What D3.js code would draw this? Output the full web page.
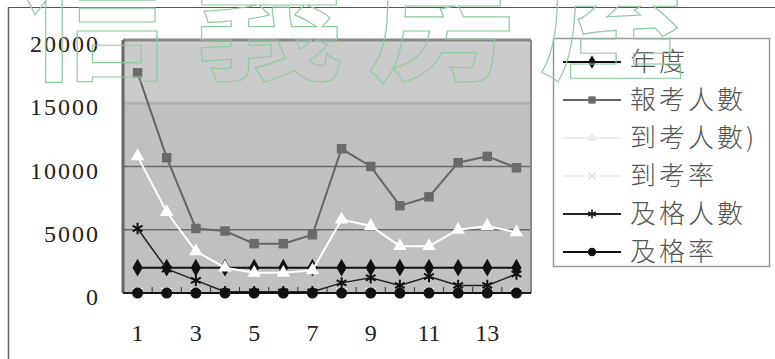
<!DOCTYPE html>
<html>
<head>
<meta charset="utf-8">
<script src="https://cdn.jsdelivr.net/npm/d3@7"></script>
<style>
  body { margin: 0; background: #fff; }
  svg { display: block; }
</style>
</head>
<body>
<svg id="chart" width="775" height="359"></svg>
<script>
// categories and series values
const categories = [1, 2, 3, 4, 5, 6, 7, 8, 9, 10, 11, 12, 13, 14]
const xLabels = [1, 3, 5, 7, 9, 11, 13]
const yTicks = [0, 5000, 10000, 15000, 20000]

const niandu = [2000, 2000, 2000, 2000, 2000, 2000, 2000, 2000, 2000, 2000, 2000, 2000, 2000, 2000]
const baokao = [17400, 10700, 5100, 4900, 3900, 3900, 4600, 11400, 10000, 6900, 7600, 10300, 10800, 9900]
const daokao = [10800, 6400, 3300, 2000, 1600, 1600, 1800, 5800, 5300, 3700, 3700, 5000, 5300, 4800]
const daokaoRate = [0.62, 0.6, 0.65, 0.41, 0.41, 0.41, 0.39, 0.51, 0.53, 0.54, 0.49, 0.49, 0.49, 0.48]
const jige = [5100, 1900, 1000, 100, 100, 100, 100, 800, 1200, 600, 1300, 600, 600, 1500]
const jigeRate = [0.29, 0.3, 0.3, 0.05, 0.06, 0.06, 0.05, 0.14, 0.23, 0.16, 0.35, 0.12, 0.11, 0.31]

const seriesNames = ['年度', '報考人數', '到考人數)', '到考率', '及格人數', '及格率']

const svg = d3.select('#chart')

const plot = {left: 123, right: 531, top: 40, bottom: 293}

const xScale = d3.scaleBand()
            .domain(categories)
            .range([plot.left, plot.right])
const cx = d => xScale(d) + xScale.bandwidth() / 2

const yScale = d3.scaleLinear()
            .domain([0, 20000])
            .range([plot.bottom, plot.top])

// outer frame lines
svg.append('line').attr('x1', 8).attr('x2', 775).attr('y1', 7.5).attr('y2', 7.5)
    .attr('stroke', '#555').attr('stroke-width', 1)
svg.append('line').attr('x1', 8.5).attr('x2', 8.5).attr('y1', 7).attr('y2', 359)
    .attr('stroke', '#666').attr('stroke-width', 1.5)

// plot background, lighter band at the top
svg.append('rect')
    .attr('x', plot.left).attr('y', yScale(15000))
    .attr('width', plot.right - plot.left).attr('height', plot.bottom - yScale(15000))
    .attr('fill', '#c0c0c0')
svg.append('rect')
    .attr('x', plot.left).attr('y', plot.top)
    .attr('width', plot.right - plot.left).attr('height', yScale(15000) - plot.top)
    .attr('fill', '#cbcbcb')

// gridlines
svg.selectAll('.grid')
    .data([5000, 10000, 15000])
    .join('line')
        .attr('class', 'grid')
        .attr('x1', plot.left).attr('x2', plot.right)
        .attr('y1', d => yScale(d)).attr('y2', d => yScale(d))
        .attr('stroke', d => d === 15000 ? '#b0b0b0' : '#6a6a6a')
        .attr('stroke-width', d => d === 15000 ? 3 : 1.5)

// plot border
svg.append('line').attr('x1', plot.left).attr('x2', plot.right).attr('y1', plot.top).attr('y2', plot.top)
    .attr('stroke', '#888').attr('stroke-width', 3)
svg.append('line').attr('x1', plot.left).attr('x2', plot.left).attr('y1', plot.top).attr('y2', plot.bottom)
    .attr('stroke', '#666').attr('stroke-width', 3)
svg.append('line').attr('x1', plot.right).attr('x2', plot.right).attr('y1', plot.top).attr('y2', plot.bottom)
    .attr('stroke', '#888').attr('stroke-width', 2)

// small ticks between categories along the base
svg.selectAll('.minor')
    .data(categories.slice(1))
    .join('line')
        .attr('class', 'minor')
        .attr('x1', d => xScale(d)).attr('x2', d => xScale(d))
        .attr('y1', plot.bottom).attr('y2', plot.bottom - 6)
        .attr('stroke', '#333').attr('stroke-width', 1)

// axes
const yAxis = svg.append('g')
    .attr('transform', `translate(${plot.left},0)`)
    .call(d3.axisLeft(yScale).tickValues(yTicks).tickSize(0).tickPadding(23).tickFormat(d3.format('d')))
yAxis.select('.domain').remove()
yAxis.selectAll('text')
    .attr('dy', '0.48em')
    .attr('font-family', 'Liberation Serif, serif')
    .attr('font-size', 24)
    .attr('letter-spacing', 2)
    .attr('fill', '#222')

const xAxis = svg.append('g')
    .attr('transform', `translate(0,${plot.bottom})`)
    .call(d3.axisBottom(xScale).tickValues(xLabels).tickSize(0).tickPadding(31))
xAxis.select('.domain').attr('stroke', '#222').attr('stroke-width', 2)
    .attr('d', `M${plot.left},0H${plot.right}`)
xAxis.selectAll('text')
    .attr('font-family', 'Liberation Serif, serif')
    .attr('font-size', 24)
    .attr('fill', '#222')

// series
const series = [
    {name: seriesNames[0], values: niandu, line: '#111', width: 2, sym: d3.symbolDiamond, size: 90, fill: '#111', stroke: 'none'},
    {name: seriesNames[1], values: baokao, line: '#666', width: 2, sym: d3.symbolSquare, size: 90, fill: '#6a6a6a', stroke: 'none'},
    {name: seriesNames[2], values: daokao, line: '#fff', width: 2, sym: d3.symbolTriangle, size: 80, fill: '#fff', stroke: 'none'},
    {name: seriesNames[3], values: daokaoRate, line: '#fff', width: 1.5, sym: d3.symbolTimes, size: 60, fill: 'none', stroke: '#fff'},
    {name: seriesNames[4], values: jige, line: '#222', width: 1.5, sym: d3.symbolAsterisk, size: 90, fill: 'none', stroke: '#111'},
    {name: seriesNames[5], values: jigeRate, line: '#111', width: 2, sym: d3.symbolCircle, size: 95, fill: '#111', stroke: 'none'}
]

const line = d3.line()
    .x((d, i) => cx(categories[i]))
    .y(d => yScale(d))

series.forEach(s => {
    svg.append('path')
        .attr('d', line(s.values))
        .attr('fill', 'none')
        .attr('stroke', s.line)
        .attr('stroke-width', s.width)
    svg.append('g')
        .selectAll('path')
        .data(s.values)
        .join('path')
            .attr('transform', (d, i) => `translate(${cx(categories[i])},${yScale(d)})`)
            .attr('d', d3.symbol(s.sym, s.size))
            .attr('fill', s.fill)
            .attr('stroke', s.stroke)
            .attr('stroke-width', 2)
})

// legend
svg.append('rect')
    .attr('x', 553.5).attr('y', 38.5).attr('width', 216).attr('height', 228)
    .attr('fill', '#fff').attr('stroke', '#999').attr('stroke-width', 1.5)
const legend = svg.append('g')

const legendItems = legend.selectAll('g')
    .data(series)
    .join('g')
        .attr('transform', (d, i) => `translate(0,${62 + i * 38})`)

legendItems.append('line')
    .attr('x1', 563).attr('x2', 621)
    .attr('stroke', d => d.line === '#fff' ? '#eee' : d.line)
    .attr('stroke-width', 2)
legendItems.append('path')
    .attr('transform', 'translate(592,0)')
    .attr('d', d => d3.symbol(d.sym, d.size * 0.6)())
    .attr('fill', d => d.fill === '#fff' ? '#eee' : d.fill)
    .attr('stroke', d => d.stroke === '#fff' ? '#ddd' : d.stroke)
    .attr('stroke-width', 1.5)
legendItems.append('text')
    .attr('x', 630)
    .attr('dy', '0.36em')
    .attr('font-family', 'Noto Sans CJK TC')
    .attr('font-size', 26)
    .attr('font-weight', 300)
    .attr('letter-spacing', 3)
    .attr('fill', '#555')
    .text(d => d.name)

// watermark
svg.append('text')
    .attr('x', 22)
    .attr('y', 68)
    .attr('font-family', 'Noto Sans CJK TC')
    .attr('font-size', 150)
    .attr('font-weight', 700)
    .attr('letter-spacing', 22)
    .attr('fill', 'none')
    .attr('stroke', '#8fcc9f')
    .attr('stroke-width', 1.2)
    .text('信義房屋')
</script>
</body>
</html>
